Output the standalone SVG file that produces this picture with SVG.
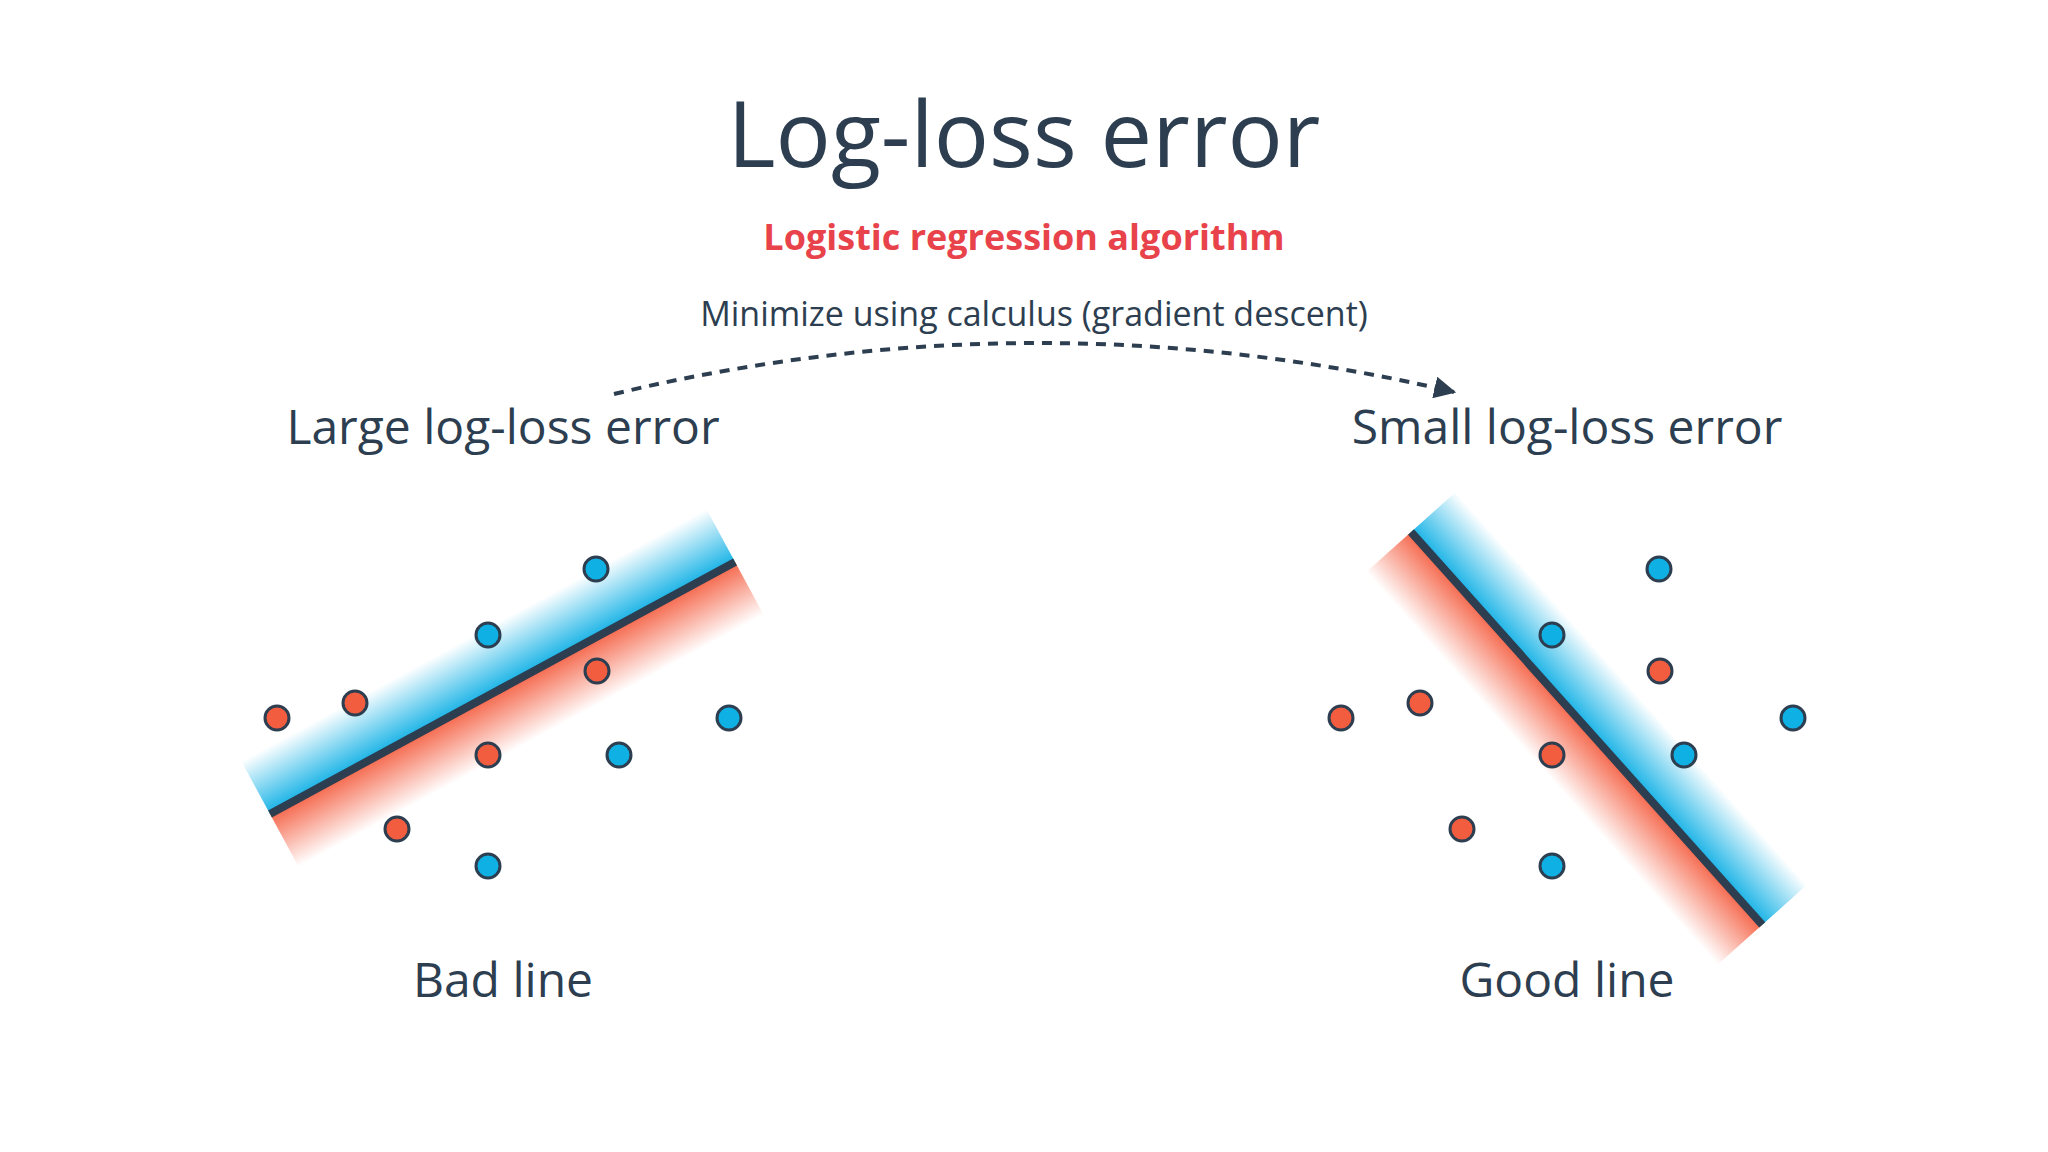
<svg xmlns="http://www.w3.org/2000/svg" width="2048" height="1152" viewBox="0 0 2048 1152">
<defs>
<linearGradient id="gb" x1="0" y1="0" x2="0" y2="1"><stop offset="0" stop-color="#16b2e6" stop-opacity="0"/><stop offset="1" stop-color="#16b2e6"/></linearGradient>
<linearGradient id="gr" x1="0" y1="0" x2="0" y2="1"><stop offset="0" stop-color="#f5664a"/><stop offset="1" stop-color="#f5664a" stop-opacity="0"/></linearGradient>
<marker id="ah" viewBox="0 0 10 10" refX="8" refY="5" markerWidth="7" markerHeight="7" orient="auto" markerUnits="userSpaceOnUse"><path d="M0,0 L10,5 L0,10 z" fill="#2c3e50"/></marker>
<marker id="ah2" viewBox="0 0 10 10" refX="9" refY="5" markerWidth="22" markerHeight="22" orient="auto" markerUnits="userSpaceOnUse"><path d="M0,0 L10,5 L0,10 z" fill="#2c3e50"/></marker>
</defs>
<style>
text{font-family:"Open Sans","Liberation Sans",sans-serif;fill:#2c3e50;text-anchor:middle}
.r{fill:#f25c3f;stroke:#2c3e50;stroke-width:3}
.b{fill:#0fb0e3;stroke:#2c3e50;stroke-width:3}
.ln{stroke:#2c3e50;stroke-width:8}
</style>
<rect width="2048" height="1152" fill="#fff"/>
<text x="1024" y="167" font-size="92">Log-loss error</text>
<text x="1024" y="250" font-size="36" font-weight="bold" style="fill:#e8434b">Logistic regression algorithm</text>
<text x="1034" y="326" font-size="34">Minimize using calculus (gradient descent)</text>
<g id="connectors"><path d="M614,394 Q1034,293 1454,392" fill="none" stroke="#2c3e50" stroke-width="4" stroke-dasharray="10,8" marker-end="url(#ah2)"/></g>
<g id="left">
<text x="503" y="444" font-size="48">Large log-loss error</text>
<g transform="translate(270,814) rotate(-28.46)"><rect x="0" y="-60" width="529" height="60" fill="url(#gb)"/><rect x="0" y="0" width="529" height="60" fill="url(#gr)"/><line x1="0" y1="0" x2="529" y2="0" class="ln"/></g>
<circle cx="277" cy="718" r="12" class="r"/><circle cx="355" cy="703" r="12" class="r"/><circle cx="397" cy="829" r="12" class="r"/><circle cx="488" cy="755" r="12" class="r"/><circle cx="597" cy="671" r="12" class="r"/>
<circle cx="596" cy="569" r="12" class="b"/><circle cx="488" cy="635" r="12" class="b"/><circle cx="619" cy="755" r="12" class="b"/><circle cx="729" cy="718" r="12" class="b"/><circle cx="488" cy="866" r="12" class="b"/>
<text x="503" y="997" font-size="48">Bad line</text>
</g>
<g id="right">
<text x="1567" y="444" font-size="48">Small log-loss error</text>
<g transform="translate(1411,532) rotate(48.2)"><rect x="0" y="-60" width="527" height="60" fill="url(#gb)"/><rect x="0" y="0" width="527" height="60" fill="url(#gr)"/><line x1="0" y1="0" x2="527" y2="0" class="ln"/></g>
<circle cx="1341" cy="718" r="12" class="r"/><circle cx="1420" cy="703" r="12" class="r"/><circle cx="1462" cy="829" r="12" class="r"/><circle cx="1552" cy="755" r="12" class="r"/><circle cx="1660" cy="671" r="12" class="r"/>
<circle cx="1659" cy="569" r="12" class="b"/><circle cx="1552" cy="635" r="12" class="b"/><circle cx="1684" cy="755" r="12" class="b"/><circle cx="1793" cy="718" r="12" class="b"/><circle cx="1552" cy="866" r="12" class="b"/>
<text x="1567" y="997" font-size="48">Good line</text>
</g>
</svg>
